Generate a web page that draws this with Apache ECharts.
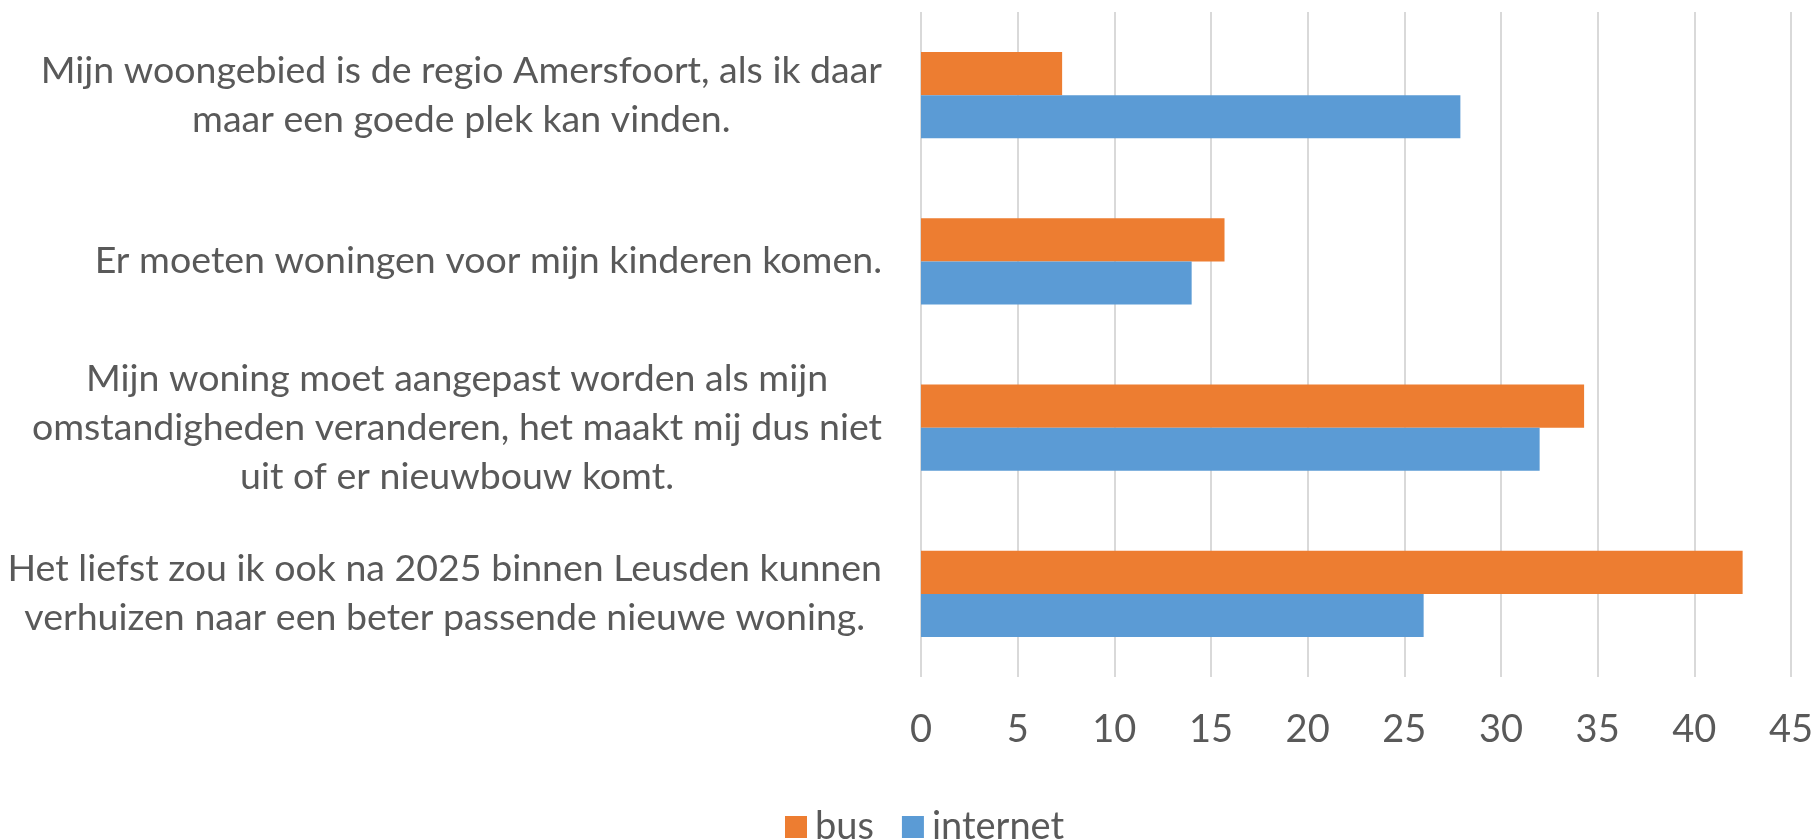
<!DOCTYPE html>
<html>
<head>
<meta charset="utf-8">
<title>bus / internet</title>
<script src="https://cdn.jsdelivr.net/npm/echarts@6.0.0/dist/echarts.min.js"></script>
<style>
  html, body { margin: 0; padding: 0; background: #fff; }
  #chart { width: 1816px; height: 839px; }
</style>
</head>
<body>
<div id="chart"></div>
<script>
// 类目 (top to bottom)
const categories = [
  "Mijn woongebied is de regio Amersfoort, als ik daar\nmaar een goede plek kan vinden.",
  "Er moeten woningen voor mijn kinderen komen.",
  "Mijn woning moet aangepast worden als mijn\nomstandigheden veranderen, het maakt mij dus niet\nuit of er nieuwbouw komt.",
  "Het liefst zou ik ook na 2025 binnen Leusden kunnen\nverhuizen naar een beter passende nieuwe woning."
];
const seriesNames = ["bus", "internet"];
const busValues = [7.3, 15.7, 34.3, 42.5];
const internetValues = [27.9, 14.0, 32.0, 26.0];
const xTicks = [0, 5, 10, 15, 20, 25, 30, 35, 40, 45];

const textColor = "#595959";
const fontFamily = "Lato, 'Open Sans', sans-serif";

const chartInstance = echarts.init(document.getElementById("chart"));

const option = {
  animation: false,
  textStyle: { fontFamily: fontFamily },
  grid: {
    left: 921,
    right: 24,
    top: 12,
    bottom: 162
  },
  legend: {
    data: seriesNames,
    left: 780,
    top: 803,
    icon: "rect",
    itemWidth: 22,
    itemHeight: 22,
    itemGap: 28,
    textStyle: { fontSize: 38, color: textColor, fontFamily: fontFamily, padding: [0, 0, 0, 3] }
  },
  xAxis: {
    type: "value",
    min: xTicks[0],
    max: xTicks[xTicks.length - 1],
    interval: xTicks[1] - xTicks[0],
    axisLine: { show: false },
    axisTick: { show: false },
    splitLine: { lineStyle: { color: "#d9d9d9", width: 2 } },
    axisLabel: { fontSize: 38, color: textColor, margin: 34, fontFamily: fontFamily }
  },
  yAxis: {
    type: "category",
    inverse: true,
    data: categories,
    axisLine: { show: false },
    axisTick: { show: false },
    axisLabel: {
      margin: 39,
      // 每行居中
      formatter: function (value) {
        return value.split("\n").map(function (line) {
          return "{c|" + line + "}";
        }).join("\n");
      },
      rich: {
        c: {
          fontSize: 37.5,
          lineHeight: 49,
          align: "center",
          color: textColor,
          fontFamily: fontFamily
        }
      }
    }
  },
  series: [
    {
      name: seriesNames[0],
      type: "bar",
      data: busValues,
      barGap: "0%",
      barCategoryGap: "48%",
      itemStyle: { color: "#ED7D31" }
    },
    {
      name: seriesNames[1],
      type: "bar",
      data: internetValues,
      barGap: "0%",
      barCategoryGap: "48%",
      itemStyle: { color: "#5B9BD5" }
    }
  ]
};

chartInstance.setOption(option);
</script>
</body>
</html>
